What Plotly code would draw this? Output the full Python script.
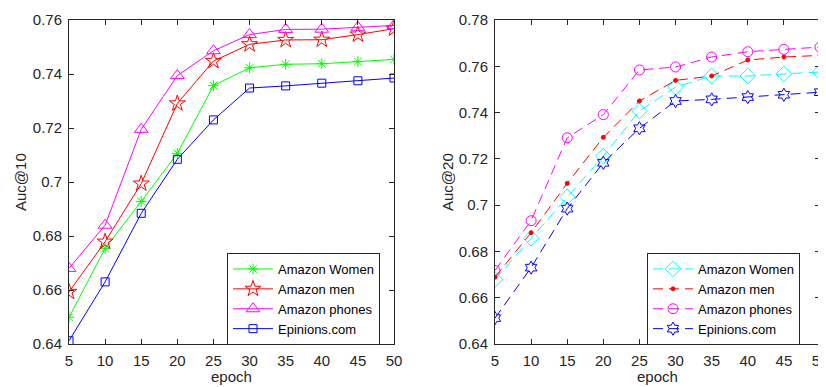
import plotly.graph_objects as go

epochs = [5, 10, 15, 20, 25, 30, 35, 40, 45, 50]

# Left panel: Auc@10
auc10_women = [0.6499, 0.6754, 0.6928, 0.7106, 0.7357, 0.7423, 0.7436, 0.7438, 0.7446, 0.7454]
auc10_men = [0.6593, 0.6779, 0.6994, 0.7291, 0.7448, 0.7510, 0.7526, 0.7527, 0.7546, 0.7568]
auc10_phones = [0.6680, 0.6840, 0.7195, 0.7394, 0.7486, 0.7546, 0.7565, 0.7566, 0.7573, 0.7580]
auc10_epinions = [0.6412, 0.6630, 0.6884, 0.7084, 0.7230, 0.7348, 0.7356, 0.7366, 0.7375, 0.7385]

# Right panel: Auc@20
auc20_women = [0.6679, 0.6857, 0.7036, 0.7212, 0.7407, 0.7510, 0.7558, 0.7558, 0.7567, 0.7575]
auc20_men = [0.6689, 0.6881, 0.7094, 0.7293, 0.7450, 0.7539, 0.7558, 0.7627, 0.7640, 0.7647]
auc20_phones = [0.6718, 0.6933, 0.7291, 0.7391, 0.7584, 0.7597, 0.7640, 0.7663, 0.7673, 0.7683]
auc20_epinions = [0.6512, 0.6730, 0.6985, 0.7183, 0.7332, 0.7450, 0.7457, 0.7467, 0.7477, 0.7488]

names = ["Amazon Women", "Amazon men", "Amazon phones", "Epinions.com"]
x_ticks = [5, 10, 15, 20, 25, 30, 35, 40, 45, 50]
y10_ticks = [0.64, 0.66, 0.68, 0.70, 0.72, 0.74, 0.76]
y10_labels = ["0.64", "0.66", "0.68", "0.7", "0.72", "0.74", "0.76"]
y20_ticks = [0.64, 0.66, 0.68, 0.70, 0.72, 0.74, 0.76, 0.78]
y20_labels = ["0.64", "0.66", "0.68", "0.7", "0.72", "0.74", "0.76", "0.78"]

FONT = "Liberation Sans, Arial, sans-serif"
AX = "#262626"

fig = go.Figure()

left_styles = [
    ("#00ff00", "asterisk-open", 9),
    ("#ff0000", "star-open", 12),
    ("#ff00ff", "triangle-up-open", 12),
    ("#0000ff", "square-open", 8),
]
for name, ys, (c, sym, sz) in zip(names, [auc10_women, auc10_men, auc10_phones, auc10_epinions], left_styles):
    fig.add_trace(go.Scatter(
        x=epochs, y=ys, name=name, mode="lines+markers",
        line=dict(color=c, width=1),
        marker=dict(symbol=sym, size=sz, color=c, line=dict(color=c, width=1)),
        xaxis="x", yaxis="y", legend="legend",
    ))

right_styles = [
    ("#00ffff", "diamond-open", 12),
    ("#ff0000", "circle", 4),
    ("#ff00ff", "circle-open", 10),
    ("#0000ff", "hexagram-open", 10),
]
for name, ys, (c, sym, sz) in zip(names, [auc20_women, auc20_men, auc20_phones, auc20_epinions], right_styles):
    fig.add_trace(go.Scatter(
        x=epochs, y=ys, name=name, mode="lines+markers",
        line=dict(color=c, width=1, dash="10px,6px"),
        marker=dict(symbol=sym, size=sz, color=c, line=dict(color=c, width=1)),
        xaxis="x2", yaxis="y2", legend="legend2",
    ))

# The page body has an 8px margin, so the figure is drawn 8px in from the window corner.
OFF = 8
W, H = 826 - OFF, 387 - OFF


def px_x(p):
    return (p - OFF) / W


def px_y(p):
    return 1 - (p - OFF) / H


xl = [px_x(69), px_x(394)]
xr = [px_x(495), px_x(820)]
yd = [px_y(344), px_y(20)]

axis_common = dict(
    showline=True, linecolor=AX, linewidth=1, mirror="ticks",
    ticks="inside", ticklen=5, tickcolor=AX, showgrid=False, zeroline=False,
    tickfont=dict(family=FONT, size=15, color=AX), automargin=False,
    ticklabelstandoff=3, ticklabeloverflow="allow",
)

legend_common = dict(
    bgcolor="white", bordercolor=AX, borderwidth=1,
    font=dict(family=FONT, size=13, color="black"),
    xanchor="left", yanchor="top", itemwidth=40,
    tracegroupgap=0, itemclick=False,
)

fig.update_layout(
    width=W, height=H,
    margin=dict(l=0, r=0, t=0, b=0, autoexpand=False),
    paper_bgcolor="white", plot_bgcolor="white",
    font=dict(family=FONT, size=15, color=AX),
    xaxis=dict(domain=xl, range=[5, 50], tickvals=x_ticks, anchor="y", **axis_common),
    yaxis=dict(domain=yd, range=[0.64, 0.76], tickvals=y10_ticks, ticktext=y10_labels, anchor="x", **axis_common),
    xaxis2=dict(domain=xr, range=[5, 50], tickvals=x_ticks, anchor="y2", **axis_common),
    yaxis2=dict(domain=yd, range=[0.64, 0.78], tickvals=y20_ticks, ticktext=y20_labels, anchor="x2", **axis_common),
    legend=dict(x=px_x(227), y=px_y(253), **legend_common),
    legend2=dict(x=px_x(647), y=px_y(253), **legend_common),
    annotations=[
        dict(text="Auc@10", x=px_x(20), y=(yd[0] + yd[1]) / 2, xref="paper", yref="paper",
             xanchor="center", yanchor="middle",
             textangle=-90, showarrow=False, font=dict(family=FONT, size=15, color=AX)),
        dict(text="Auc@20", x=px_x(447), y=(yd[0] + yd[1]) / 2, xref="paper", yref="paper",
             xanchor="center", yanchor="middle",
             textangle=-90, showarrow=False, font=dict(family=FONT, size=15, color=AX)),
        dict(text="epoch", x=(xl[0] + xl[1]) / 2, y=0, xref="paper", yref="paper",
             xanchor="center", yanchor="bottom", showarrow=False, font=dict(family=FONT, size=15, color=AX)),
        dict(text="epoch", x=(xr[0] + xr[1]) / 2, y=0, xref="paper", yref="paper",
             xanchor="center", yanchor="bottom", showarrow=False, font=dict(family=FONT, size=15, color=AX)),
    ],
)

fig.write_html("out.html")
